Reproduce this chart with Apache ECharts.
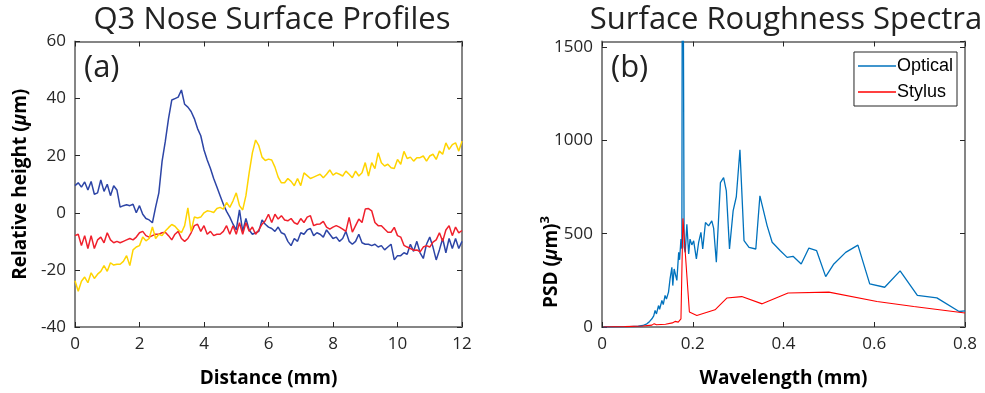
<!DOCTYPE html>
<html>
<head>
<meta charset="utf-8">
<script src="https://cdn.jsdelivr.net/npm/echarts@6/dist/echarts.min.js"></script>
<style>
  html, body { margin: 0; padding: 0; background: #fff; }
  #chart { width: 985px; height: 393px; }
</style>
</head>
<body>
<div id="chart"></div>
<script>
// (a) profiles, sampled every 0.1 mm from 0 to 12 mm
const distance = Array.from({ length: 121 }, (_, i) => +(i * 0.1).toFixed(1));

const blueProfile = [
  9.5, 10.5, 9, 10.8, 8, 11, 6.5, 7, 11.5, 7.5,
  10, 6, 9.5, 8, 2, 2.5, 2.8, 2.5, 3, 0,
  2.5, -0.5, -2, -2.5, -3.5, 2, 7, 18, 25, 33,
  39.5, 40, 40.5, 43, 38, 37, 35.5, 33, 29.5, 27,
  22, 18.5, 15.5, 12, 9, 6, 3, 0.5, -1.5, -4,
  -6, 1, -6.5, -2, -6, -7.5, -7, -6.5, -2.5, -4,
  -5, -5.5, -6.5, -5, -7, -7.5, -10, -11.5, -9, -10,
  -7, -7.5, -6, -5.5, -8, -7, -7.5, -8.5, -6, -7.5,
  -9, -8.5, -10, -9, -6.5, -10, -11, -10, -7.5, -10.5,
  -11, -11, -11.5, -11, -12, -11.5, -13, -12, -11, -16.5,
  -15, -15, -14, -14.5, -11, -13.5, -10, -14, -16, -11,
  -8.5, -12, -16.5, -13, -9, -14, -9, -12.5, -9, -12.5,
  -10
];

const redProfile = [
  -8, -7.5, -11.5, -8, -12.5, -8, -12.5, -9.5, -8.5, -10.5,
  -7, -9.5, -10.5, -10, -10.5, -10, -9.5, -9, -9.5, -8.5,
  -7, -6.5, -8, -8.5, -8, -7.5, -7.5, -7, -6.8, -8,
  -9.5, -7.5, -6.5, -9, -10, -9, -7, -4.5, -4, -6.5,
  -4.5, -7.5, -6.5, -8, -7.5, -7.5, -6.5, -4.5, -7.5, -4.5,
  -7.5, -3.5, -7.5, -3.5, -6.5, -5, -7.5, -6, -4, -2.8,
  -0.5, -3.4, -0.5, -2.2, -1, -2.5, -2.8, -2, -3.5, -4,
  -2, -3.4, -1.5, -1, -4.5, -4, -3.9, -3, -5, -5.7,
  -5, -4.5, -5, -5.7, -6.5, -1.6, -6.8, -4.5, -2.2, -3.4,
  1.3, 1.5, 0.7, -3.4, -4.5, -4.5, -5.7, -6.8, -6.8, -5.1,
  -8, -8.5, -11.4, -12, -12.5, -13.1, -13, -13.7, -12, -11.5,
  -12, -10.3, -9.5, -7, -10, -6, -4.5, -8, -5, -7,
  -6.2
];

const yellowProfile = [
  -23.8, -27.5, -24, -22.5, -24.5, -21, -23, -21.5, -20.5, -18.5,
  -20.5, -17.5, -18.3, -18, -18, -17, -15, -18.5, -13, -12,
  -11.5, -8.5, -9.8, -9, -5, -9, -7.5, -8, -6.4, -5.2,
  -4.1, -4.7, -6, -7, -4.5, 1.7, -6.5, -1.5, -1.8, -1.5,
  0, 0.7, 0.5, 0.1, 1.5, 1.9, 1.3, 3.6, 1.9, 4.2,
  7, 2.5, 1, 6, 14, 21, 25.5, 23.5, 19.5, 18.3,
  18.8, 18.5, 16, 12.5, 10.5, 10.5, 12, 11, 9.5, 12,
  9.5, 14, 13, 12, 12.5, 13, 13.5, 12.3, 13.5, 15,
  13.2, 14, 13.5, 12.9, 14.6, 13.5, 12.3, 14.6, 12.9, 14,
  17.6, 12.9, 17.6, 15.5, 21, 17.5, 16.4, 17, 15.8, 15.5,
  18.7, 17, 21.5, 19, 19.5, 18.1, 19.3, 19.3, 19.9, 18.1,
  19.9, 20.5, 18.7, 21.6, 20.5, 24.5, 22.2, 23.9, 24.5, 21.6,
  25.1
];

// (b) spectra
const opticalWavelength = [
  0.003, 0.03, 0.06, 0.08, 0.09, 0.099, 0.105, 0.110, 0.114, 0.117,
  0.120, 0.1245, 0.127, 0.132, 0.135, 0.139, 0.142, 0.1466, 0.150, 0.154,
  0.156, 0.159, 0.162, 0.165, 0.169, 0.171, 0.174, 0.176, 0.1775, 0.1795,
  0.181, 0.1834, 0.187, 0.191, 0.194, 0.198, 0.202, 0.208, 0.213, 0.218,
  0.222, 0.228, 0.235, 0.242, 0.246, 0.252, 0.261, 0.268, 0.274, 0.281,
  0.289, 0.296, 0.304, 0.313, 0.324, 0.339, 0.348, 0.364, 0.375, 0.393,
  0.408, 0.421, 0.439, 0.456, 0.473, 0.493, 0.511, 0.537, 0.564, 0.590,
  0.623, 0.657, 0.695, 0.738, 0.787, 0.800
];
const opticalPsd = [
  0, 1, 2, 4, 8, 17, 30, 44, 60, 89,
  70, 115, 95, 142, 120, 169, 150, 187, 258, 320,
  222, 311, 280, 250, 400, 360, 471, 420, 3000, 3000,
  430, 400, 551, 391, 471, 440, 462, 365, 454, 507,
  418, 560, 542, 569, 530, 347, 774, 801, 729, 418,
  622, 698, 950, 463, 427, 418, 703, 542, 454, 409,
  373, 379, 338, 423, 409, 270, 338, 400, 439, 231,
  213, 301, 169, 156, 83, 86
];
const stylusWavelength = [
  0.003, 0.05, 0.09, 0.11, 0.115, 0.12, 0.14, 0.155, 0.161, 0.168,
  0.174, 0.1783, 0.1926, 0.209, 0.249, 0.275, 0.308, 0.353, 0.41, 0.5,
  0.606, 0.687, 0.8
];
const stylusPsd = [
  0, 2, 5, 10, 18, 12, 15, 22, 30, 26,
  44, 582, 80, 62, 92, 155, 163, 124, 182, 187,
  137, 110, 75
];

const FONT = "'Open Sans', 'Noto Sans', sans-serif";
const TICK_COLOR = '#262626';
const BOX_COLOR = '#858585';

function pairs(xs, ys) {
  return xs.map((x, i) => [x, ys[i]]);
}

function boxAxis(gridIndex, position, min, max, interval) {
  return {
    gridIndex: gridIndex,
    type: 'value',
    position: position,
    min: min,
    max: max,
    interval: interval,
    axisLine: { show: true, onZero: false, lineStyle: { color: BOX_COLOR, width: 2 } },
    axisTick: { show: true, inside: true, length: 5, lineStyle: { color: TICK_COLOR } },
    axisLabel: { show: false },
    splitLine: { show: false }
  };
}

function mainAxis(gridIndex, position, min, max, interval, extra) {
  const ax = boxAxis(gridIndex, position, min, max, interval);
  ax.axisLabel = {
    show: true,
    color: TICK_COLOR,
    fontSize: 17,
    fontFamily: FONT,
    margin: 9,
    formatter: (v) => String(v)
  };
  ax.nameMoveOverlap = false;
  return Object.assign(ax, extra || {});
}

const chart = echarts.init(document.getElementById('chart'));

const richName = {
  b: { fontSize: 19, fontWeight: 'bold', fontFamily: FONT, fill: '#000', color: '#000', lineHeight: 26 },
  i: { fontSize: 19, fontWeight: 'bold', fontStyle: 'italic', fontFamily: FONT, fill: '#000', color: '#000', lineHeight: 26 },
  sup: { fontSize: 13, fontWeight: 'bold', fontFamily: FONT, fill: '#000', color: '#000', verticalAlign: 'top', lineHeight: 26, padding: [0, 0, 10, 0] }
};
const plainName = { fontSize: 19, fontWeight: 'bold', fontFamily: FONT, color: '#000' };

chart.setOption({
  animation: false,
  backgroundColor: '#fff',
  grid: [
    { left: 75, top: 41.5, width: 387, height: 287 },
    { left: 602, top: 41.5, width: 363, height: 287 }
  ],
  graphic: [
    { type: 'text', x: 272, y: 20, style: { text: 'Q3 Nose Surface Profiles', align: 'center', verticalAlign: 'middle', font: '31px ' + FONT, fill: '#222' } },
    { type: 'text', x: 786, y: 20, style: { text: 'Surface Roughness Spectra', align: 'center', verticalAlign: 'middle', font: '31px ' + FONT, fill: '#222' } },
    { type: 'text', x: 84, y: 68, style: { text: '(a)', align: 'left', verticalAlign: 'middle', font: '31px ' + FONT, fill: '#222' } },
    { type: 'text', x: 611, y: 68, style: { text: '(b)', align: 'left', verticalAlign: 'middle', font: '31px ' + FONT, fill: '#222' } },
    // PSD label sits lower than the axis centre in the original, clear of the tick labels
    {
      type: 'text', x: 552, y: 262, rotation: Math.PI / 2,
      style: { text: '{b|PSD (}{i|μ}{b|m)}{sup|3}', rich: richName, align: 'center', verticalAlign: 'middle', fill: '#000' }
    }
  ],
  legend: {
    right: 28,
    top: 52,
    orient: 'vertical',
    data: ['Optical', 'Stylus'],
    icon: 'rect',
    backgroundColor: '#fff',
    borderColor: '#262626',
    borderWidth: 1,
    borderRadius: 0,
    padding: [4, 4, 4, 4],
    itemGap: 6,
    itemWidth: 38,
    itemHeight: 1.5,
    textStyle: { fontFamily: "'Liberation Sans', Arial, sans-serif", fontSize: 18, color: '#000', padding: [0, 0, 0, -4], lineHeight: 20 }
  },
  xAxis: [
    mainAxis(0, 'bottom', 0, 12, 2, {
      name: 'Distance (mm)',
      nameLocation: 'middle',
      nameGap: 42,
      nameTextStyle: plainName
    }),
    boxAxis(0, 'top', 0, 12, 2),
    mainAxis(1, 'bottom', 0, 0.8, 0.2, {
      name: 'Wavelength (mm)',
      nameLocation: 'middle',
      nameGap: 42,
      nameTextStyle: plainName
    }),
    boxAxis(1, 'top', 0, 0.8, 0.2)
  ],
  yAxis: [
    mainAxis(0, 'left', -40, 60, 20, {
      name: '{b|Relative height (}{i|μ}{b|m)}',
      nameLocation: 'middle',
      nameGap: 41,
      nameTextStyle: { color: '#000', fontFamily: FONT, rich: richName }
    }),
    boxAxis(0, 'right', -40, 60, 20),
    mainAxis(1, 'left', 0, 1530, 500, {
      axisLabel: { show: true, color: TICK_COLOR, fontSize: 17, fontFamily: FONT, margin: 9, showMaxLabel: false, formatter: (v) => String(v) }
    }),
    boxAxis(1, 'right', 0, 1530, 500)
  ],
  series: [
    { name: 'blue', type: 'line', xAxisIndex: 0, yAxisIndex: 0, data: pairs(distance, blueProfile), symbol: 'none', lineStyle: { color: '#2d45a6', width: 1.5 } },
    { name: 'red', type: 'line', xAxisIndex: 0, yAxisIndex: 0, data: pairs(distance, redProfile), symbol: 'none', lineStyle: { color: '#f0202c', width: 1.5 } },
    { name: 'yellow', type: 'line', xAxisIndex: 0, yAxisIndex: 0, data: pairs(distance, yellowProfile), symbol: 'none', lineStyle: { color: '#ffd400', width: 1.5 } },
    { name: 'Optical', type: 'line', xAxisIndex: 2, yAxisIndex: 2, data: pairs(opticalWavelength, opticalPsd), symbol: 'none', clip: true, itemStyle: { color: '#0072bd' }, lineStyle: { color: '#0072bd', width: 1.3 } },
    { name: 'Stylus', type: 'line', xAxisIndex: 2, yAxisIndex: 2, data: pairs(stylusWavelength, stylusPsd), symbol: 'none', clip: true, itemStyle: { color: '#ff0000' }, lineStyle: { color: '#ff0000', width: 1.1 } }
  ]
});
</script>
</body>
</html>
